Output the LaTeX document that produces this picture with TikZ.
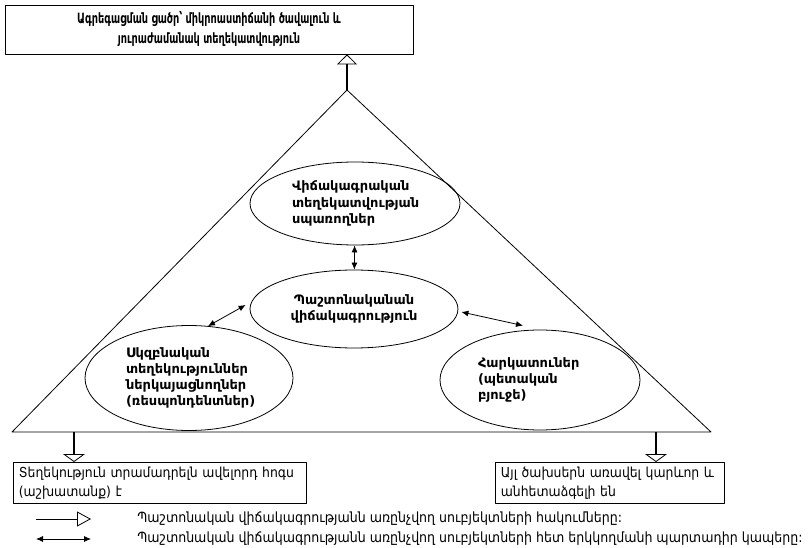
\documentclass[tikz,border=0pt]{standalone}
\usepackage{fontspec}
\setmainfont{DejaVu Sans}
\newfontfamily\condfont{DejaVu Sans Condensed}
\newfontfamily\headfont[FakeStretch=0.76]{DejaVu Sans Condensed}
\usetikzlibrary{arrows.meta,shapes.geometric}

\begin{document}
\begin{tikzpicture}[x=1pt,y=-1pt,line join=round,line width=0.8pt]
\tikzset{
  headbox/.style={draw,minimum width=408,minimum height=49,align=center,inner sep=0pt,font=\headfont\bfseries\fontsize{14.2}{20}\selectfont},
  footbox/.style={draw,anchor=north west,align=left,inner xsep=5.5pt,inner ysep=0pt,text width=282,minimum height=41,font=\condfont\fontsize{13.8}{19}\selectfont},
  cloud/.style={draw,ellipse,inner sep=0pt,align=left,font=\bfseries\fontsize{13}{16.2}\selectfont},
  note/.style={anchor=west,inner sep=0pt,font=\condfont\fontsize{14}{15}\selectfont},
  up/.style={line width=1.2pt,-{Triangle[open,length=10pt,width=20pt,line width=0.8pt]}},
  down/.style={line width=1.2pt,-{Triangle[open,length=8pt,width=22pt,line width=0.8pt]}},
  both/.style={{Latex[length=7pt,width=6pt]}-{Latex[length=7pt,width=6pt]}}
}
\useasboundingbox (0,0) rectangle (809,548);
% top box
\node[headbox] (top) at (209,29.5) {Ագրեգացման ցածր՝ միկրոաստիճանի ծավալուն և\\ յուրաժամանակ տեղեկատվություն};
% triangle
\coordinate (apex) at (347,90);
\coordinate (bl) at (12,432);
\coordinate (br) at (711,432);
\draw (apex) -- (bl) -- (br) -- cycle;
\draw[up] (apex) -- (top.south -| apex);
% ellipses
\node[cloud,minimum width=210,minimum height=83,text width=126] (users) at (355,203.5)
  {Վիճակագրական\\ տեղեկատվության\\ սպառողներ};
\node[cloud,minimum width=208,minimum height=78,align=center] (stat) at (354,309)
  {Պաշտոնականան\\ վիճակագրություն};
\node[cloud,minimum width=208,minimum height=105,text width=126] (resp) at (189,378)
  {Սկզբնական\\ տեղեկություններ\\ ներկայացնողներ\\ (ռեսպոնդենտներ)};
\node[cloud,minimum width=200,minimum height=100,text width=124] (tax) at (540,380)
  {Հարկատուներ\\ (պետական\\ բյուջե)};
\draw[both] (users) -- (stat);
\path (resp.north) ++(19,1) coordinate (r1) (stat.west) ++(-4,-4) coordinate (s1);
\path (stat.east) ++(3,3) coordinate (s2) (tax.north) ++(-17,-4) coordinate (t1);
\draw[both] (r1) -- (s1);
\draw[both] (s2) -- (t1);
% bottom boxes
\node[footbox] (left) at (13,462) {Տեղեկություն տրամադրելն ավելորդ հոգս\\ (աշխատանք) է};
\node[footbox,text width=218] (right) at (495,462) {Այլ ծախսերն առավել կարևոր և\\ անհետաձգելի են};
\draw[down] (bl -| 74,0) -- (left.north -| 74,0);
\draw[down] (bl -| 656,0) -- (right.north -| 656,0);
% legend
\coordinate (a1) at (36,519);
\coordinate (a2) at (91,519);
\coordinate (b1) at (36,539);
\coordinate (b2) at (91,539);
\draw[-{Triangle[open,length=14pt,width=15pt]}] (a1) -- (a2);
\draw[both] (b1) -- (b2);
\node[note] (n1) at (137,519) {Պաշտոնական վիճակագրությանն առընչվող սուբյեկտների հակումները:};
\node[note] (n2) at (137,539) {Պաշտոնական վիճակագրությանն առընչվող սուբյեկտների հետ երկկողմանի պարտադիր կապերը:};
\end{tikzpicture}
\end{document}
